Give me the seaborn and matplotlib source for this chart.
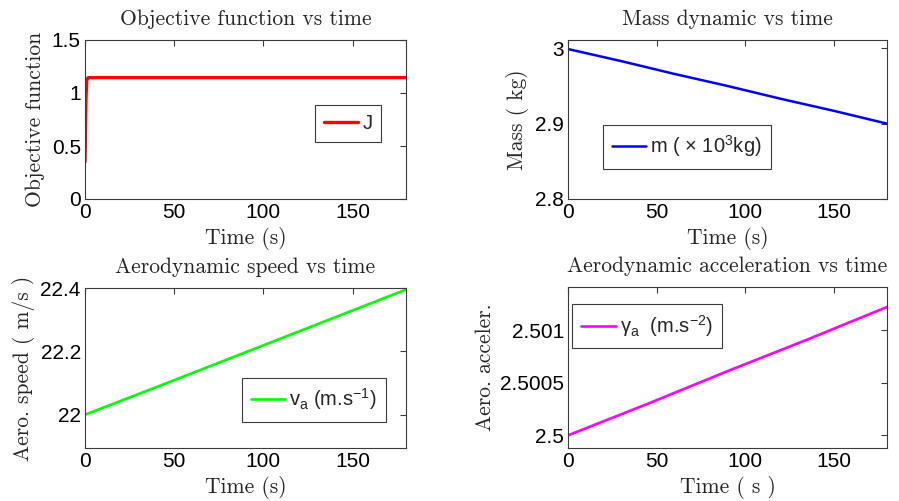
import numpy as np
import pandas as pd
import seaborn as sns
import matplotlib
matplotlib.use("Agg")
import matplotlib.pyplot as plt
from matplotlib.ticker import FixedLocator, FuncFormatter

# ---- data -------------------------------------------------------------
t_J = [0, 0.3, 0.6, 1.0, 1.5, 2.0, 15, 45, 140, 180]
J_vals = [0.35, 0.70, 0.98, 1.12, 1.14, 1.145, 1.145, 1.145, 1.145, 1.145]

t_m = [0, 30, 60, 90, 120, 150, 180]
m_vals = [2.999, 2.983, 2.966, 2.950, 2.933, 2.917, 2.900]

t_v = [0, 45, 90, 135, 180]
v_vals = [22.000, 22.098, 22.197, 22.296, 22.395]

t_g = [0, 45, 90, 135, 180]
g_vals = [2.50000, 2.50030, 2.50061, 2.50091, 2.50122]

time_ticks = [0, 50, 100, 150]

# ---- style ------------------------------------------------------------
sns.set_style("white")
plt.rcParams["font.family"] = ["Liberation Sans", "DejaVu Sans"]
plt.rcParams["mathtext.default"] = "regular"
plt.rcParams["axes.unicode_minus"] = False

serif = "cmr10"
SERIF_SIZE = 15.5
FRAME = "#3a3a3a"

fig = plt.figure(figsize=(8.99, 5.01), dpi=100)
W, H = 899, 501


def make_axes(x0, y_top, x1, y_bot):
    return fig.add_axes([x0 / W, (H - y_bot) / H, (x1 - x0) / W, (y_bot - y_top) / H])


def style_axes(ax, title, xlabel, ylabel, yticks, ylim, ylab_x, xlab_y):
    ax.set_xlim(0, 180)
    ax.set_ylim(*ylim)
    ax.xaxis.set_major_locator(FixedLocator(time_ticks))
    ax.yaxis.set_major_locator(FixedLocator(yticks))
    fmt = FuncFormatter(lambda v, p: f"{v:g}")
    ax.xaxis.set_major_formatter(fmt)
    ax.yaxis.set_major_formatter(fmt)
    ax.tick_params(direction="in", top=True, right=True, length=4, width=0.8,
                   color=FRAME, labelsize=15, labelcolor="black", pad=3)
    for s in ax.spines.values():
        s.set_color(FRAME)
        s.set_linewidth(0.8)
    ax.set_title(title, fontfamily=serif, fontsize=SERIF_SIZE, pad=11)
    ax.set_xlabel(xlabel, fontfamily=serif, fontsize=SERIF_SIZE, va="center")
    ax.xaxis.set_label_coords(0.5, xlab_y)
    ax.set_ylabel(ylabel, fontfamily=serif, fontsize=SERIF_SIZE, va="center")
    ax.yaxis.set_label_coords(ylab_x, 0.5)


def legend(ax, anchor):
    lg = ax.legend(loc="center", bbox_to_anchor=anchor, fancybox=False,
                   framealpha=1, edgecolor=FRAME, fontsize=14.5,
                   handlelength=1.7, handletextpad=0.2, borderpad=0.45)
    lg.get_frame().set_linewidth(0.8)


# Objective function
ax1 = make_axes(85, 40, 406, 199)
sns.lineplot(x=t_J, y=J_vals, ax=ax1, color="#ff0000", lw=2.4, label="J")
style_axes(ax1, "Objective function vs time", "Time (s)", "Objective function",
           [0, 0.5, 1, 1.5], (0, 1.5), -0.156, -0.25)
legend(ax1, (0.82, 0.475))

# Mass
ax2 = make_axes(568, 40, 887, 199)
sns.lineplot(x=t_m, y=m_vals, ax=ax2, color="#0000ff", lw=1.8,
             label=r"m ( $\times$ 10$^3$kg)")
style_axes(ax2, "Mass dynamic vs time", "Time (s)", "Mass ( kg)",
           [2.8, 2.9, 3.0], (2.8, 3.011), -0.157, -0.25)
legend(ax2, (0.373, 0.33))

# Aerodynamic speed
ax3 = make_axes(85, 288, 406, 448)
sns.lineplot(x=t_v, y=v_vals, ax=ax3, color="#00ff00", lw=1.9,
             label=r"v$_a$ (m.s$^{-1}$)")
style_axes(ax3, "Aerodynamic speed vs time", "Time (s)", "Aero. speed ( m/s )",
           [22, 22.2, 22.4], (21.895, 22.4), -0.193, -0.245)
legend(ax3, (0.712, 0.303))

# Aerodynamic acceleration
ax4 = make_axes(568, 287, 887, 448)
sns.lineplot(x=t_g, y=g_vals, ax=ax4, color="#ff00ff", lw=1.9,
             label=r"γ$_a$  (m.s$^{-2}$)")
style_axes(ax4, "Aerodynamic acceleration vs time", "Time ( s )", "Aero. acceler.",
           [2.5, 2.5005, 2.501], (2.49988, 2.50141), -0.26, -0.245)
legend(ax4, (0.248, 0.755))

fig.savefig("out.png", dpi=100, facecolor="white")
